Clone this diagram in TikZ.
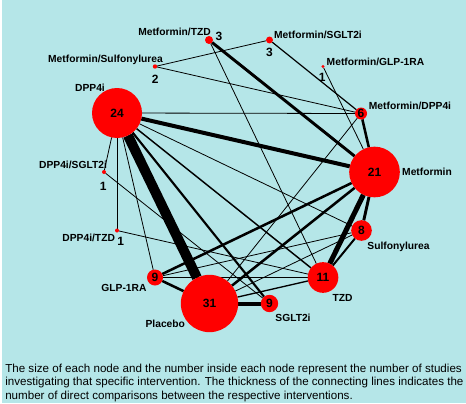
\documentclass[tikz,border=0pt]{standalone}
\usepackage{fontspec}
\setmainfont{Liberation Sans}
\usetikzlibrary{backgrounds}
\definecolor{bgcyan}{HTML}{B5E6E8}
\definecolor{nodered}{HTML}{FF0000}
\begin{document}
\begin{tikzpicture}[x=0.75pt,y=-0.75pt,
  trt/.style={circle, fill=nodered, inner sep=0pt, outer sep=0pt,
              font=\fontsize{9}{10}\selectfont\bfseries},
  lab/.style={inner sep=0pt, font=\fontsize{7.7}{9}\selectfont\bfseries},
  num/.style={inner sep=0pt, font=\fontsize{9}{10}\selectfont\bfseries},
  e/.style={draw=black, line cap=butt}]
\useasboundingbox (0,0) rectangle (466,403);

% treatment nodes (placed on a circle), with their study counts
\path
  (209,40)      node[trt, minimum size=6pt]    (metTZD)  {}
  (269.5,40)    node[trt, minimum size=5.2pt]  (metSGLT) {}
  (155,66.5)    node[trt, minimum size=3.3pt]  (metSU)   {}
  (323,66.5)    node[trt, minimum size=2.6pt]  (metGLP)  {}
  (117,113)     node[trt, minimum size=37.5pt] (dpp)     {24}
  (361,113.5)   node[trt, minimum size=9pt]    (metDPP)  {6}
  (104,172)     node[trt, minimum size=3pt]    (dppSGLT) {}
  (374.5,172)   node[trt, minimum size=38pt]   (met)     {21}
  (117,230.5)   node[trt, minimum size=3pt]    (dppTZD)  {}
  (361.5,230.5) node[trt, minimum size=15.5pt] (su)      {8}
  (155,277.5)   node[trt, minimum size=12pt]   (glp)     {9}
  (323,277.5)   node[trt, minimum size=23pt]   (tzd)     {11}
  (209.5,303.5) node[trt, minimum size=43pt]   (plac)    {31}
  (269.5,303.5) node[trt, minimum size=13pt]   (sglt)    {9};

% canvas and direct comparisons (line width = number of comparisons)
\begin{pgfonlayer}{background}
\fill[bgcyan] (0,0) rectangle (466,403);
\fill[white] (0,0) rectangle (1.5,403);
\draw[e, line width=2.2pt]  (metTZD) -- (met);
\draw[e, line width=0.6pt]  (metTZD) -- (tzd);
\draw[e, line width=0.6pt]  (metSGLT) -- (metSU);
\draw[e, line width=0.9pt]  (metSGLT) -- (metDPP);
\draw[e, line width=0.6pt]  (metGLP) -- (met);
\draw[e, line width=0.6pt]  (metSU) -- (metDPP);
\draw[e, line width=0.6pt]  (dpp) -- (metDPP);
\draw[e, line width=3pt]    (dpp) -- (met);
\draw[e, line width=0.6pt]  (dpp) -- (dppSGLT);
\draw[e, line width=0.6pt]  (dpp) -- (dppTZD);
\draw[e, line width=7.5pt]  (dpp) -- (plac);
\draw[e, line width=0.6pt]  (dpp) -- (glp);
\draw[e, line width=0.6pt]  (dpp) -- (su);
\draw[e, line width=1.6pt]  (dpp) -- (sglt);
\draw[e, line width=1.1pt]  (dpp) -- (tzd);
\draw[e, line width=0.6pt]  (dppSGLT) -- (sglt);
\draw[e, line width=0.6pt]  (dppTZD) -- (tzd);
\draw[e, line width=1.9pt]  (metDPP) -- (met);
\draw[e, line width=0.6pt]  (metDPP) -- (plac);
\draw[e, line width=2.2pt]  (met) -- (su);
\draw[e, line width=3.8pt]  (met) -- (tzd);
\draw[e, line width=1.9pt]  (met) -- (plac);
\draw[e, line width=1.9pt]  (met) -- (glp);
\draw[e, line width=1.5pt]  (su) -- (tzd);
\draw[e, line width=0.6pt]  (glp) -- (su);
\draw[e, line width=0.9pt]  (glp) -- (tzd);
\draw[e, line width=1.9pt]  (glp) -- (plac);
\draw[e, line width=1.0pt]  (plac) -- (tzd);
\draw[e, line width=0.6pt]  (plac) -- (su);
\draw[e, line width=3pt]    (plac) -- (sglt);
\end{pgfonlayer}

% treatment names
\node[lab] (lMetTZD)  at (174.5,32)  {Metformin/TZD};
\node[lab] (lMetSGLT) at (318,34.5)  {Metformin/SGLT2i};
\node[lab] (lMetSU)   at (105.5,60)  {Metformin/Sulfonylurea};
\node[lab] (lMetGLP)  at (375.5,62)  {Metformin/GLP-1RA};
\node[lab] (lDpp)     at (90,87.5)   {DPP4i};
\node[lab] (lMetDPP)  at (410,106)   {Metformin/DPP4i};
\node[lab] (lDppSGLT) at (73,165)    {DPP4i/SGLT2i};
\node[lab] (lMet)     at (427,172.3) {Metformin};
\node[lab] (lDppTZD)  at (88.7,237.7){DPP4i/TZD};
\node[lab] (lSu)      at (398.5,246.7){Sulfonylurea};
\node[lab] (lGlp)     at (124,288.3) {GLP-1RA};
\node[lab] (lTzd)     at (342.5,297.7){TZD};
\node[lab] (lPlac)    at (165.3,324.3){Placebo};
\node[lab] (lSglt)    at (293,318.3) {SGLT2i};

% study counts of the small nodes
\node[num] (nMetTZD)  at (219,36)    {3};
\node[num] (nMetSGLT) at (269.5,52)  {3};
\node[num] (nMetSU)   at (155.3,79)  {2};
\node[num] (nMetGLP)  at (322.3,77.3){1};
\node[num] (nDppSGLT) at (103.3,186.7){1};
\node[num] (nDppTZD)  at (120.7,241) {1};

% caption
\node[anchor=north west, inner sep=0pt, align=left,
      font=\fontsize{8.7}{10.2}\selectfont] (caption) at (5,363.5)
  {The size of each node and the number inside each node represent the number of studies\\
   investigating that specific intervention. The thickness of the connecting lines indicates the\\
   number of direct comparisons between the respective interventions.};
\end{tikzpicture}
\end{document}
